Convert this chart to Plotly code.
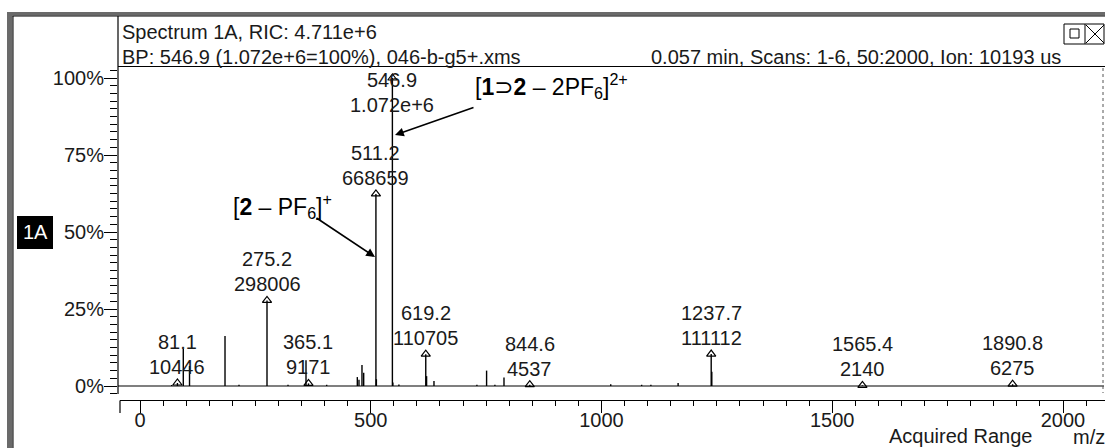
import plotly.graph_objects as go

# ---- spectrum data -------------------------------------------------------
base_peak = 1.072e6  # intensity of the base peak (100 %)

# labelled peaks: m/z, absolute intensity, intensity text
label_mz = [81.1, 275.2, 365.1, 511.2, 546.9, 619.2, 844.6, 1237.7, 1565.4, 1890.8]
label_int = [10446, 298006, 9171, 668659, 1.072e6, 110705, 4537, 111112, 2140, 6275]
label_txt = ["10446", "298006", "9171", "668659", "1.072e+6", "110705",
             "4537", "111112", "2140", "6275"]

# other (unlabelled) peaks: m/z and relative intensity in %
minor_mz = [68.7, 93.8, 107.3, 184.2, 214.5, 320.7, 359.7, 404.5, 470.9, 474.5,
            481.0, 484.7, 512.2, 547.9, 561.0, 621.0, 637.0, 730.0, 751.0, 769.0,
            788.7, 1020.0, 1087.0, 1107.0, 1166.0, 1239.0]
minor_pct = [0.3, 12.0, 6.5, 16.2, 0.4, 0.4, 8.4, 0.4, 2.9, 2.0,
             6.8, 4.3, 2.2, 1.1, 0.5, 3.2, 1.6, 0.4, 5.0, 0.4,
             2.8, 0.6, 0.4, 0.4, 1.0, 4.6]

y_tickvals = [0, 25, 50, 75, 100]
y_ticktext = ["0%", "25%", "50%", "75%", "100%"]
x_tickvals = [0, 500, 1000, 1500, 2000]

# ---- page geometry (pixels) -----------------------------------------------
W, H = 1105, 448
PLOT_L, PLOT_R, PLOT_T, PLOT_B = 118, 1100, 67, 400


def px(x):
    return x / W


def py(y):
    return 1 - y / H


FONT = "Liberation Sans, Arial, sans-serif"
FS = 20
TXT = "#1a1a1a"

label_pct = [v / base_peak * 100 for v in label_int]

# stick spectrum: one vertical segment per peak
all_mz = minor_mz + label_mz
all_pct = minor_pct + label_pct
xs, ys = [], []
for m, p in zip(all_mz, all_pct):
    xs += [m, m, None]
    ys += [0, p, None]

fig = go.Figure()
fig.add_trace(go.Scatter(x=xs, y=ys, mode="lines",
                         line=dict(color="black", width=1.4),
                         hoverinfo="skip", showlegend=False))
fig.add_trace(go.Scatter(x=label_mz, y=label_pct, mode="markers",
                         marker=dict(symbol="triangle-up-open", size=8,
                                     color="black", line=dict(width=1.2)),
                         hoverinfo="skip", showlegend=False))


def text_at(x, y, text, xanchor="center", yanchor="middle", size=FS,
            color=TXT, family=FONT):
    return dict(x=px(x), y=py(y), xref="paper", yref="paper", text=text,
                showarrow=False, xanchor=xanchor, yanchor=yanchor,
                font=dict(family=family, size=size, color=color))


# peak labels: m/z on top, intensity below, kept inside the plot top
annotations = []
for m, p, t in zip(label_mz, label_pct, label_txt):
    anchor = min(p, 86.0)
    annotations.append(dict(x=m, y=anchor, xref="x", yref="y", text=f"{m:.1f}",
                            showarrow=False, xanchor="center", yanchor="middle",
                            yshift=41, font=dict(family=FONT, size=FS, color=TXT)))
    annotations.append(dict(x=m, y=anchor, xref="x", yref="y", text=t,
                            showarrow=False, xanchor="center", yanchor="middle",
                            yshift=16, font=dict(family=FONT, size=FS, color=TXT)))

# ion assignments with arrows
ARIAL = "Liberation Sans, Arial, DejaVu Sans, sans-serif"
annotations.append(text_at(551, 86, "[<b>1</b>⊃<b>2</b> – 2PF<sub>6</sub>]<sup>2+</sup>",
                           size=23, color="black", family=ARIAL))
annotations.append(text_at(282, 206, "[<b>2</b> – PF<sub>6</sub>]<sup>+</sup>",
                           size=23, color="black", family=ARIAL))
annotations.append(dict(x=px(395), y=py(135), xref="paper", yref="paper", text="",
                        showarrow=True, ax=475 - 395, ay=107 - 135,
                        arrowhead=2, arrowsize=1.1, arrowwidth=1.6, arrowcolor="black"))
annotations.append(dict(x=px(375), y=py(257), xref="paper", yref="paper", text="",
                        showarrow=True, ax=315 - 375, ay=217 - 257,
                        arrowhead=2, arrowsize=1.1, arrowwidth=1.6, arrowcolor="black"))

# header and axis captions
annotations += [
    text_at(120, 32, "Spectrum 1A, RIC: 4.711e+6", xanchor="left"),
    text_at(120, 57, "BP: 546.9 (1.072e+6=100%), 046-b-g5+.xms", xanchor="left"),
    text_at(1063, 57, "0.057 min, Scans: 1-6, 50:2000, Ion: 10193 us", xanchor="right"),
    text_at(960, 436, "Acquired Range"),
    text_at(1089, 437, "m/z"),
    text_at(35, 232, "1A", color="white"),
]

# frame, header box and axes lines
shapes = [
    # outer window border
    dict(type="rect", xref="paper", yref="paper", x0=px(7), x1=px(1105),
         y0=py(12), y1=py(15.5), fillcolor="#6a6a6a", line=dict(width=0)),
    dict(type="rect", xref="paper", yref="paper", x0=px(7), x1=px(12.5),
         y0=py(12), y1=py(448), fillcolor="#6a6a6a", line=dict(width=0)),
    dict(type="line", xref="paper", yref="paper", x0=px(12.5), x1=px(1105),
         y0=py(16), y1=py(16), line=dict(color="black", width=1)),
    dict(type="line", xref="paper", yref="paper", x0=px(13), x1=px(13),
         y0=py(16), y1=py(448), line=dict(color="black", width=1)),
    # header separator
    dict(type="line", xref="paper", yref="paper", x0=px(118), x1=px(1105),
         y0=py(66.5), y1=py(66.5), line=dict(color="black", width=1)),
    # intensity axis line
    dict(type="line", xref="paper", yref="paper", x0=px(118), x1=px(118),
         y0=py(16), y1=py(394), line=dict(color="black", width=1.2)),
    # m/z axis line
    dict(type="line", xref="paper", yref="paper", x0=px(120), x1=px(1105),
         y0=py(400.5), y1=py(400.5), line=dict(color="black", width=1.2)),
    dict(type="line", xref="paper", yref="paper", x0=px(120), x1=px(120),
         y0=py(400.5), y1=py(413), line=dict(color="black", width=1.2)),
    # spectrum baseline
    dict(type="line", xref="paper", yref="y", x0=px(118), x1=px(1104),
         y0=0, y1=0, line=dict(color="black", width=1.2)),
    # right edge ticks
    dict(type="line", xref="paper", yref="paper", x0=px(1103), x1=px(1103),
         y0=py(68), y1=py(393), line=dict(color="#555", width=1, dash="dot")),
    # trace label box
    dict(type="rect", xref="paper", yref="paper", x0=px(17), x1=px(53),
         y0=py(249), y1=py(216), fillcolor="black", line=dict(width=0)),
    # window buttons
    dict(type="rect", xref="paper", yref="paper", x0=px(1064), x1=px(1104),
         y0=py(44), y1=py(24), line=dict(color="black", width=1)),
    dict(type="line", xref="paper", yref="paper", x0=px(1085), x1=px(1085),
         y0=py(44), y1=py(24), line=dict(color="black", width=1)),
    dict(type="rect", xref="paper", yref="paper", x0=px(1070), x1=px(1079),
         y0=py(38), y1=py(29), line=dict(color="black", width=1)),
    dict(type="line", xref="paper", yref="paper", x0=px(1086), x1=px(1104),
         y0=py(25), y1=py(43), line=dict(color="black", width=1)),
    dict(type="line", xref="paper", yref="paper", x0=px(1086), x1=px(1104),
         y0=py(43), y1=py(25), line=dict(color="black", width=1)),
]

# axis ranges derived from the pixel layout: 0 -> x 140 px, 2000 -> x 1063 px
XS = 0.4615
x_range = [(PLOT_L - 140) / XS, (PLOT_R - 140) / XS]
YS = 3.08
y_range = [(386 - PLOT_B) / YS, (386 - PLOT_T) / YS]

fig.update_layout(
    width=W, height=H,
    margin=dict(l=0, r=0, t=0, b=0),
    paper_bgcolor="white", plot_bgcolor="white",
    showlegend=False,
    xaxis=dict(domain=[px(PLOT_L), px(PLOT_R)], range=x_range,
               showgrid=False, zeroline=False, showline=False,
               tickmode="array", tickvals=x_tickvals,
               ticks="outside", ticklen=12, tickwidth=1.2, tickcolor="black",
               ticklabelstandoff=-10,
               minor=dict(dtick=50, tick0=0, ticks="outside", ticklen=5,
                          tickwidth=1, tickcolor="black"),
               tickfont=dict(family=FONT, size=FS, color=TXT)),
    yaxis=dict(domain=[py(PLOT_B), py(PLOT_T)], range=y_range,
               showgrid=False, zeroline=False, showline=False,
               tickmode="array", tickvals=y_tickvals, ticktext=y_ticktext,
               ticks="outside", ticklen=13, tickwidth=1.2, tickcolor="black",
               ticklabelstandoff=-4,
               minor=dict(dtick=2.5, tick0=0, ticks="outside", ticklen=7,
                          tickwidth=1, tickcolor="black"),
               tickfont=dict(family=FONT, size=FS, color=TXT)),
    annotations=annotations,
    shapes=shapes,
)

fig.write_html("out.html")
